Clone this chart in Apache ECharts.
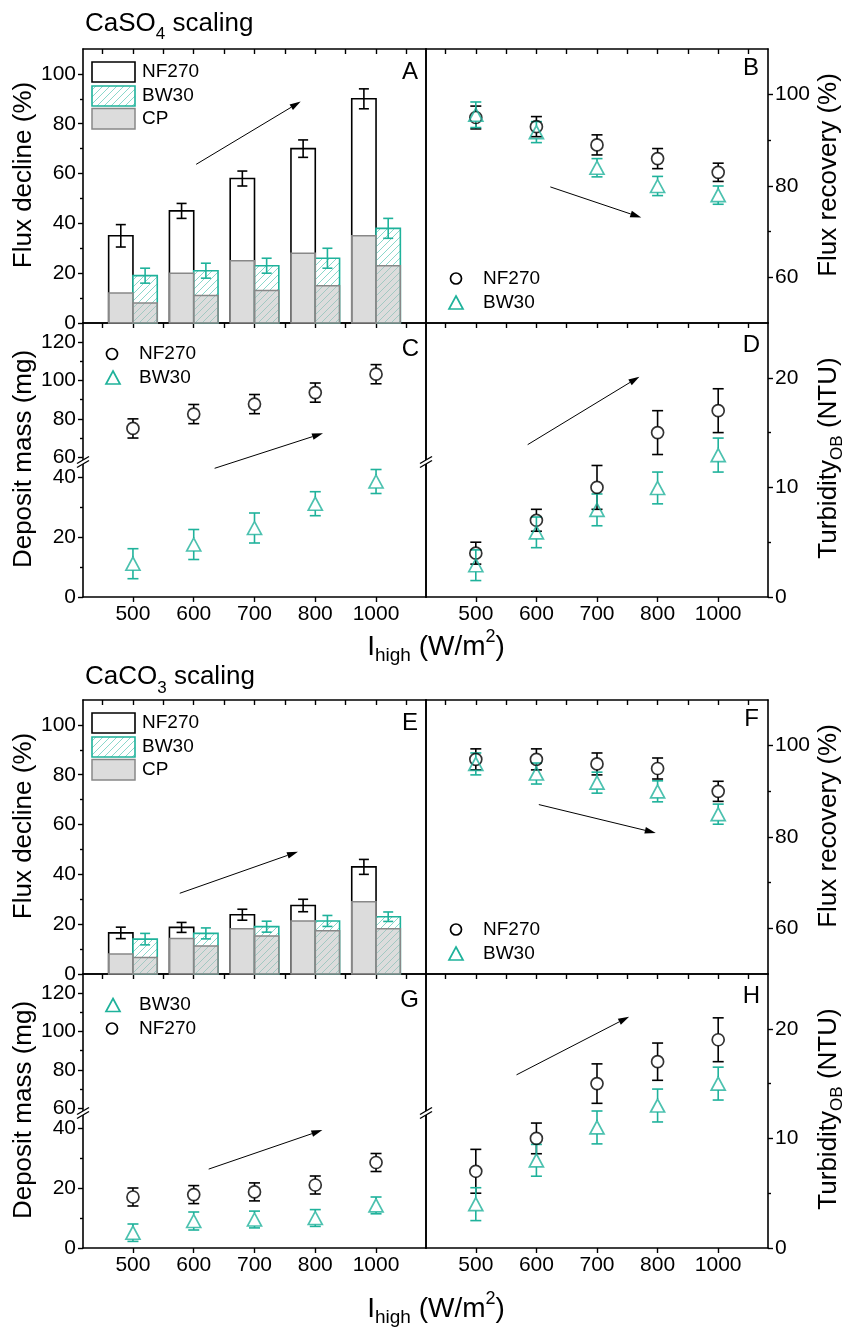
<!DOCTYPE html>
<html>
<head>
<meta charset="utf-8">
<script src="https://cdn.jsdelivr.net/npm/echarts@6/dist/echarts.min.js"></script>
<style>
  html, body { margin: 0; padding: 0; background: #fff; }
  #chart { width: 846px; height: 1329px; }
</style>
</head>
<body>
<div id="chart"></div>
<script>
// ---------- data ----------
const xLabels = ['500', '600', '700', '800', '1000'];

// CaSO4 scaling
const so4DeclineNF = [35, 45, 58, 70, 90];
const so4DeclineNFErr = [4.5, 3, 3, 3.5, 4];
const so4DeclineBW = [19, 21, 23, 26, 38];
const so4DeclineBWErr = [3, 3, 3, 4, 4];
const so4CpNF = [12, 20, 25, 28, 35];
const so4CpBW = [8, 11, 13, 15, 23];
const so4RecoveryNF = [95, 93, 89, 86, 83];
const so4RecoveryNFErr = [2.5, 2.2, 2.2, 2.2, 2];
const so4RecoveryBW = [95.6, 91.8, 84, 80, 78];
const so4RecoveryBWErr = [2.8, 2.3, 2, 2.1, 2];
const so4MassNF = [75, 82.5, 87.7, 93.7, 103.3];
const so4MassNFErr = [5, 5, 5, 5, 5];
const so4MassBW = [11.1, 17.5, 23, 31.1, 38.5];
const so4MassBWErr = [5, 5, 5, 4, 4];
const so4TurbNF = [4, 7, 10, 15, 17];
const so4TurbNFErr = [1, 1, 2, 2, 2];
const so4TurbBW = [2.9, 5.9, 7.95, 9.95, 12.95];
const so4TurbBWErr = [1.4, 1.4, 1.45, 1.45, 1.55];

// CaCO3 scaling
const co3DeclineNF = [16.5, 18.7, 23.8, 27.5, 43];
const co3DeclineNFErr = [2.3, 2, 2.2, 2.5, 3];
const co3DeclineBW = [14, 16.3, 19, 21.3, 23];
const co3DeclineBWErr = [2.3, 2.2, 2.2, 2.2, 1.9];
const co3CpNF = [8, 14.3, 18.2, 21.3, 29];
const co3CpBW = [6.6, 11.2, 15.3, 17.4, 18.2];
const co3RecoveryNF = [97, 97, 96, 95, 90];
const co3RecoveryNFErr = [2.3, 2.3, 2.4, 2.3, 2.2];
const co3RecoveryBW = [96, 93.9, 91.9, 90, 85];
const co3RecoveryBWErr = [2.4, 2.3, 2.3, 2.3, 2.2];
const co3MassNF = [17, 17.8, 18.7, 21, 28.5];
const co3MassNFErr = [3, 3, 3, 3, 3];
const co3MassBW = [5.1, 9, 9.5, 10, 14.2];
const co3MassBWErr = [2.9, 3, 2.8, 2.8, 2.8];
const co3TurbNF = [7, 10, 15, 17, 19];
const co3TurbNFErr = [2, 1.4, 1.8, 1.7, 2];
const co3TurbBW = [4, 8, 11, 13, 15];
const co3TurbBWErr = [1.5, 1.45, 1.5, 1.5, 1.5];

// trend arrows, in data units of each panel: [from, to]
const so4Arrows = {
  A: [[1.04, 63.7], [2.76, 88.9]],
  B: [[1.23, 79.8], [2.73, 73.1]],
  C: [[1.344, 42.9, 'lower'], [3.127, 72.5, 'upper']],
  D: [[0.856, 13.9], [2.70, 20.1]]
};
const co3Arrows = {
  A: [[0.77, 32.4], [2.715, 49.1]],
  B: [[1.04, 87.1], [2.97, 80.9]],
  C: [[1.246, 26.3, 'lower'], [3.117, 39.3, 'lower']],
  D: [[0.672, 15.8], [2.53, 21.1]]
};

// ---------- styling / layout ----------
const TEAL = '#1fb29b';
const BLACK = '#000';
const FONT = 'Liberation Sans, Arial, sans-serif';
const X_MIN = -0.822, X_MAX = 4.822;
const catIdx = [0, 1, 2, 3, 4];
const halfSteps = [-0.5, 0, 0.5, 1, 1.5, 2, 2.5, 3, 3.5, 4, 4.5];
const L = 83, M = 426, R = 768;
const ROW_H = 274;
const UPPER_H = 139;     // height of the upper segment of the broken mass axis
const TICK_FONT = 21;

function hatchCanvas(color) {
  const s = 7;
  const c = document.createElement('canvas');
  c.width = s; c.height = s;
  const ctx = c.getContext('2d');
  ctx.fillStyle = '#fff';
  ctx.fillRect(0, 0, s, s);
  ctx.strokeStyle = color;
  ctx.lineWidth = 0.8;
  ctx.beginPath();
  ctx.moveTo(0, s); ctx.lineTo(s, 0);
  ctx.moveTo(-1, 1); ctx.lineTo(1, -1);
  ctx.moveTo(s - 1, s + 1); ctx.lineTo(s + 1, s - 1);
  ctx.stroke();
  return c;
}
const hatch = hatchCanvas('rgba(31,178,155,0.65)');
const NF_BAR = { fill: '#fff', stroke: BLACK, lineWidth: 1.6 };
const BW_BAR = { fill: { image: hatch, repeat: 'repeat' }, stroke: TEAL, lineWidth: 1.6 };
const CP_BAR = { fill: 'rgba(185,185,185,0.5)', stroke: '#888', lineWidth: 1.5 };

const option = { animation: false, backgroundColor: '#fff', grid: [], xAxis: [], yAxis: [], series: [] };

function lineOf(show) {
  return { show: show, onZero: false, lineStyle: { color: BLACK, width: 1.6 } };
}
const tickStyle = { color: BLACK, width: 1.4 };

function addPanel(p) {
  const g = option.grid.length;
  option.grid.push({ left: p.left, top: p.top, width: p.width, height: p.height });
  const xi = option.xAxis.length;
  option.xAxis.push({
    gridIndex: g, type: 'value', position: 'bottom', min: X_MIN, max: X_MAX,
    axisLine: lineOf(p.frameBottom),
    axisTick: { show: !!p.xLabels, length: 5, customValues: catIdx, lineStyle: tickStyle },
    axisLabel: { show: !!p.xLabels, customValues: catIdx, margin: 7, fontSize: TICK_FONT, color: BLACK, fontFamily: FONT,
      formatter: v => xLabels[Math.round(v)] },
    splitLine: { show: false }
  });
  option.xAxis.push({
    gridIndex: g, type: 'value', position: 'top', min: X_MIN, max: X_MAX,
    axisLine: lineOf(p.frameTop),
    axisTick: { show: !!p.frameTop, inside: true, length: 5, customValues: halfSteps, lineStyle: tickStyle },
    axisLabel: { show: false }, splitLine: { show: false }
  });
  const yi = option.yAxis.length;
  option.yAxis.push({
    gridIndex: g, type: 'value', position: p.side, min: p.min, max: p.max,
    axisLine: lineOf(true),
    axisTick: { show: true, length: 5, customValues: p.major, lineStyle: tickStyle },
    axisLabel: { show: true, customValues: p.major, margin: 7, fontSize: TICK_FONT, color: BLACK, fontFamily: FONT },
    splitLine: { show: false }
  });
  option.yAxis.push({
    gridIndex: g, type: 'value', position: p.side, min: p.min, max: p.max,
    axisLine: { show: false, onZero: false },
    axisTick: { show: true, length: 3, customValues: p.minor, lineStyle: tickStyle },
    axisLabel: { show: false }, splitLine: { show: false }
  });
  option.yAxis.push({
    gridIndex: g, type: 'value', position: p.side === 'left' ? 'right' : 'left', min: p.min, max: p.max,
    axisLine: lineOf(true), axisTick: { show: false }, axisLabel: { show: false }, splitLine: { show: false }
  });
  return { g: g, xi: xi, yi: yi };
}

function barSeries(ax, xs, vals, width, style) {
  return {
    type: 'custom', xAxisIndex: ax.xi, yAxisIndex: ax.yi, silent: true,
    data: vals.map((v, i) => [xs[i], v]),
    renderItem: function (params, api) {
      const x = api.value(0), v = api.value(1);
      const p0 = api.coord([x - width / 2, v]);
      const p1 = api.coord([x + width / 2, 0]);
      return { type: 'rect', shape: { x: p0[0], y: p0[1], width: p1[0] - p0[0], height: p1[1] - p0[1] }, style: style };
    }
  };
}

function errSeries(ax, xs, vals, errs, color, gap, cap) {
  return {
    type: 'custom', xAxisIndex: ax.xi, yAxisIndex: ax.yi, silent: true, z: 3,
    data: vals.map((v, i) => [xs[i], v, errs[i]]),
    renderItem: function (params, api) {
      const x = api.value(0), v = api.value(1), e = api.value(2);
      const c = api.coord([x, v]), t = api.coord([x, v + e]), b = api.coord([x, v - e]);
      const ls = { stroke: color, lineWidth: 1.6 };
      const ch = [
        { type: 'line', shape: { x1: c[0] - cap / 2, y1: t[1], x2: c[0] + cap / 2, y2: t[1] }, style: ls },
        { type: 'line', shape: { x1: c[0] - cap / 2, y1: b[1], x2: c[0] + cap / 2, y2: b[1] }, style: ls }
      ];
      if (c[1] - gap > t[1]) ch.push({ type: 'line', shape: { x1: c[0], y1: t[1], x2: c[0], y2: c[1] - gap }, style: ls });
      if (c[1] + gap < b[1]) ch.push({ type: 'line', shape: { x1: c[0], y1: c[1] + gap, x2: c[0], y2: b[1] }, style: ls });
      return { type: 'group', children: ch };
    }
  };
}

function pointSeries(ax, vals, errs, kind) {
  const color = kind === 'circle' ? BLACK : TEAL;
  option.series.push(errSeries(ax, catIdx, vals, errs, color, kind === 'circle' ? 6 : 6.5, 11));
  option.series.push({
    type: 'scatter', xAxisIndex: ax.xi, yAxisIndex: ax.yi, silent: true, z: 4,
    data: vals.map((v, i) => [i, v]),
    symbol: kind, symbolSize: kind === 'circle' ? 12 : [14, 13],
    itemStyle: { color: 'rgba(0,0,0,0)', borderColor: color, borderWidth: 1.7 }
  });
}

function buildGroup(top, d) {
  const A = addPanel({ left: L, top: top, width: M - L, height: ROW_H, side: 'left', min: 0, max: 110,
    major: [0, 20, 40, 60, 80, 100], minor: [10, 30, 50, 70, 90], frameTop: true, frameBottom: true });
  const B = addPanel({ left: M, top: top, width: R - M, height: ROW_H, side: 'right', min: 50, max: 110,
    major: [60, 80, 100], minor: [70, 90], frameTop: true, frameBottom: true });
  const Cu = addPanel({ left: L, top: top + ROW_H, width: M - L, height: UPPER_H, side: 'left', min: 57.5, max: 130,
    major: [60, 80, 100, 120], minor: [70, 90, 110], frameTop: true, frameBottom: false });
  const Cl = addPanel({ left: L, top: top + ROW_H + UPPER_H, width: M - L, height: ROW_H - UPPER_H, side: 'left', min: 0, max: 45,
    major: [0, 20, 40], minor: [10, 30], frameTop: false, frameBottom: true, xLabels: true });
  const D = addPanel({ left: M, top: top + ROW_H, width: R - M, height: ROW_H, side: 'right', min: 0, max: 25,
    major: [0, 10, 20], minor: [5, 15], frameTop: true, frameBottom: true, xLabels: true });

  const xsNF = catIdx.map(i => i - 0.2), xsBW = catIdx.map(i => i + 0.2);
  option.series.push(barSeries(A, xsNF, d.declineNF, 0.4, NF_BAR));
  option.series.push(barSeries(A, xsBW, d.declineBW, 0.4, BW_BAR));
  option.series.push(barSeries(A, xsNF, d.cpNF, 0.4, CP_BAR));
  option.series.push(barSeries(A, xsBW, d.cpBW, 0.4, CP_BAR));
  option.series.push(errSeries(A, xsNF, d.declineNF, d.declineNFErr, BLACK, 0, 10));
  option.series.push(errSeries(A, xsBW, d.declineBW, d.declineBWErr, TEAL, 0, 10));

  pointSeries(B, d.recoveryNF, d.recoveryNFErr, 'circle');
  pointSeries(B, d.recoveryBW, d.recoveryBWErr, 'triangle');
  pointSeries(d.massNFUpper ? Cu : Cl, d.massNF, d.massNFErr, 'circle');
  pointSeries(Cl, d.massBW, d.massBWErr, 'triangle');
  pointSeries(D, d.turbNF, d.turbNFErr, 'circle');
  pointSeries(D, d.turbBW, d.turbBWErr, 'triangle');
  return { A: A, B: B, Cu: Cu, Cl: Cl, D: D, top: top };
}

const g1 = buildGroup(49, {
  declineNF: so4DeclineNF, declineNFErr: so4DeclineNFErr, declineBW: so4DeclineBW, declineBWErr: so4DeclineBWErr,
  cpNF: so4CpNF, cpBW: so4CpBW,
  recoveryNF: so4RecoveryNF, recoveryNFErr: so4RecoveryNFErr, recoveryBW: so4RecoveryBW, recoveryBWErr: so4RecoveryBWErr,
  massNF: so4MassNF, massNFErr: so4MassNFErr, massNFUpper: true, massBW: so4MassBW, massBWErr: so4MassBWErr,
  turbNF: so4TurbNF, turbNFErr: so4TurbNFErr, turbBW: so4TurbBW, turbBWErr: so4TurbBWErr
});
const g2 = buildGroup(700, {
  declineNF: co3DeclineNF, declineNFErr: co3DeclineNFErr, declineBW: co3DeclineBW, declineBWErr: co3DeclineBWErr,
  cpNF: co3CpNF, cpBW: co3CpBW,
  recoveryNF: co3RecoveryNF, recoveryNFErr: co3RecoveryNFErr, recoveryBW: co3RecoveryBW, recoveryBWErr: co3RecoveryBWErr,
  massNF: co3MassNF, massNFErr: co3MassNFErr, massNFUpper: false, massBW: co3MassBW, massBWErr: co3MassBWErr,
  turbNF: co3TurbNF, turbNFErr: co3TurbNFErr, turbBW: co3TurbBW, turbBWErr: co3TurbBWErr
});

const chart = echarts.init(document.getElementById('chart'));
chart.setOption(option);

// ---------- text, legends, axis breaks and arrows ----------
const measureCtx = document.createElement('canvas').getContext('2d');
function textWidth(t, size) { measureCtx.font = size + 'px ' + FONT; return measureCtx.measureText(t).width; }

function textEl(x, y, text, size, align) {
  return { type: 'text', x: x, y: y, z: 100,
    style: { text: text, fontSize: size, fontFamily: FONT, fill: BLACK, align: align || 'left', verticalAlign: 'middle' } };
}
// a line of text made of runs (sub/superscripts shifted by dy), centred or left-aligned at (cx, cy)
function richLine(cx, cy, parts, rotation, align) {
  const total = parts.reduce((s, p) => s + textWidth(p.t, p.size), 0);
  let x = align === 'left' ? 0 : -total / 2;
  const children = parts.map(p => {
    const el = textEl(x, p.dy || 0, p.t, p.size, 'left');
    x += textWidth(p.t, p.size);
    return el;
  });
  return { type: 'group', x: cx, y: cy, rotation: rotation || 0, z: 100, children: children };
}

function circleEl(x, y) {
  return { type: 'circle', z: 100, shape: { cx: x, cy: y, r: 5.5 }, style: { fill: 'none', stroke: BLACK, lineWidth: 1.7 } };
}
function triangleEl(x, y) {
  return { type: 'polygon', z: 100, shape: { points: [[x, y - 6.5], [x + 7, y + 6.5], [x - 7, y + 6.5]] },
    style: { fill: 'none', stroke: TEAL, lineWidth: 1.7 } };
}
function breakMark(x, y) {
  return [
    { type: 'polygon', z: 100, shape: { points: [[x - 6, y + 1.5], [x + 6, y - 5.5], [x + 6, y - 1.5], [x - 6, y + 5.5]] },
      style: { fill: '#fff' } },
    { type: 'line', z: 101, shape: { x1: x - 6, y1: y + 1.5, x2: x + 6, y2: y - 5.5 }, style: { stroke: BLACK, lineWidth: 1.4 } },
    { type: 'line', z: 101, shape: { x1: x - 6, y1: y + 5.5, x2: x + 6, y2: y - 1.5 }, style: { stroke: BLACK, lineWidth: 1.4 } }
  ];
}
function arrowEls(p1, p2) {
  const dx = p2[0] - p1[0], dy = p2[1] - p1[1];
  const len = Math.hypot(dx, dy), ux = dx / len, uy = dy / len;
  const hl = 11, hw = 3.3;
  const bx = p2[0] - ux * hl, by = p2[1] - uy * hl;
  return [
    { type: 'line', z: 100, shape: { x1: p1[0], y1: p1[1], x2: bx, y2: by }, style: { stroke: BLACK, lineWidth: 1 } },
    { type: 'polygon', z: 100, shape: { points: [[p2[0], p2[1]], [bx - uy * hw, by + ux * hw], [bx + uy * hw, by - ux * hw]] },
      style: { fill: BLACK } }
  ];
}
function toPx(ax, pt) { return chart.convertToPixel({ xAxisIndex: ax.xi, yAxisIndex: ax.yi }, [pt[0], pt[1]]); }

const els = [];
function decorate(grp, arrows, title, titleY, xTitleY, massLegendOrder) {
  const t = grp.top;
  els.push(richLine(85, titleY, title, 0, 'left'));
  // panel letters
  els.push(textEl(418, t + 23, grp === g1 ? 'A' : 'E', 24, 'right'));
  els.push(textEl(759, t + 19, grp === g1 ? 'B' : 'F', 24, 'right'));
  els.push(textEl(419, t + 300, grp === g1 ? 'C' : 'G', 24, 'right'));
  els.push(textEl(760, t + 296, grp === g1 ? 'D' : 'H', 24, 'right'));
  // axis titles
  els.push(richLine(24, t + 126, [{ t: 'Flux decline (%)', size: 26 }], Math.PI / 2));
  els.push(richLine(24, t + 410, [{ t: 'Deposit mass (mg)', size: 26 }], Math.PI / 2));
  els.push(richLine(829, t + 126, [{ t: 'Flux recovery (%)', size: 26 }], Math.PI / 2));
  els.push(richLine(829, t + 409, [{ t: 'Turbidity', size: 26 }, { t: 'OB', size: 17, dy: 8 }, { t: ' (NTU)', size: 26 }], Math.PI / 2));
  els.push(richLine(436, xTitleY, [{ t: 'I', size: 28 }, { t: 'high', size: 19, dy: 9 }, { t: ' (W/m', size: 28 },
    { t: '2', size: 18, dy: -10 }, { t: ')', size: 28 }], 0));
  // bar legend
  els.push({ type: 'rect', z: 100, shape: { x: 92, y: t + 13, width: 43, height: 20 }, style: NF_BAR });
  els.push({ type: 'rect', z: 100, shape: { x: 92, y: t + 37, width: 43, height: 20 }, style: BW_BAR });
  els.push({ type: 'rect', z: 100, shape: { x: 92, y: t + 59.5, width: 43, height: 20.5 }, style: CP_BAR });
  els.push(textEl(142, t + 23, 'NF270', 19));
  els.push(textEl(142, t + 47, 'BW30', 19));
  els.push(textEl(142, t + 69.5, 'CP', 19));
  // recovery legend
  els.push(circleEl(456, t + 229.5)); els.push(textEl(483, t + 229.5, 'NF270', 19));
  els.push(triangleEl(456, t + 253.5)); els.push(textEl(483, t + 253.5, 'BW30', 19));
  // mass legend
  massLegendOrder.forEach((name, k) => {
    const y = t + 305 + k * 23.5;
    els.push(name === 'NF270' ? circleEl(112, y) : triangleEl(113, y));
    els.push(textEl(139, y, name, 19));
  });
  // axis breaks
  const yb = t + ROW_H + UPPER_H;
  breakMark(L, yb).forEach(e => els.push(e));
  breakMark(M, yb).forEach(e => els.push(e));
  // trend arrows
  const cAx = p => (p[2] === 'upper' ? grp.Cu : grp.Cl);
  [['A', grp.A], ['B', grp.B], ['D', grp.D]].forEach(([k, ax]) => {
    arrowEls(toPx(ax, arrows[k][0]), toPx(ax, arrows[k][1])).forEach(e => els.push(e));
  });
  arrowEls(toPx(cAx(arrows.C[0]), arrows.C[0]), toPx(cAx(arrows.C[1]), arrows.C[1])).forEach(e => els.push(e));
}

decorate(g1, so4Arrows, [{ t: 'CaSO', size: 26 }, { t: '4', size: 17, dy: 11 }, { t: ' scaling', size: 26 }], 23.5, 647, ['NF270', 'BW30']);
decorate(g2, co3Arrows, [{ t: 'CaCO', size: 26 }, { t: '3', size: 17, dy: 11 }, { t: ' scaling', size: 26 }], 677, 1309, ['BW30', 'NF270']);

chart.setOption({ graphic: { elements: els } });
</script>
</body>
</html>
